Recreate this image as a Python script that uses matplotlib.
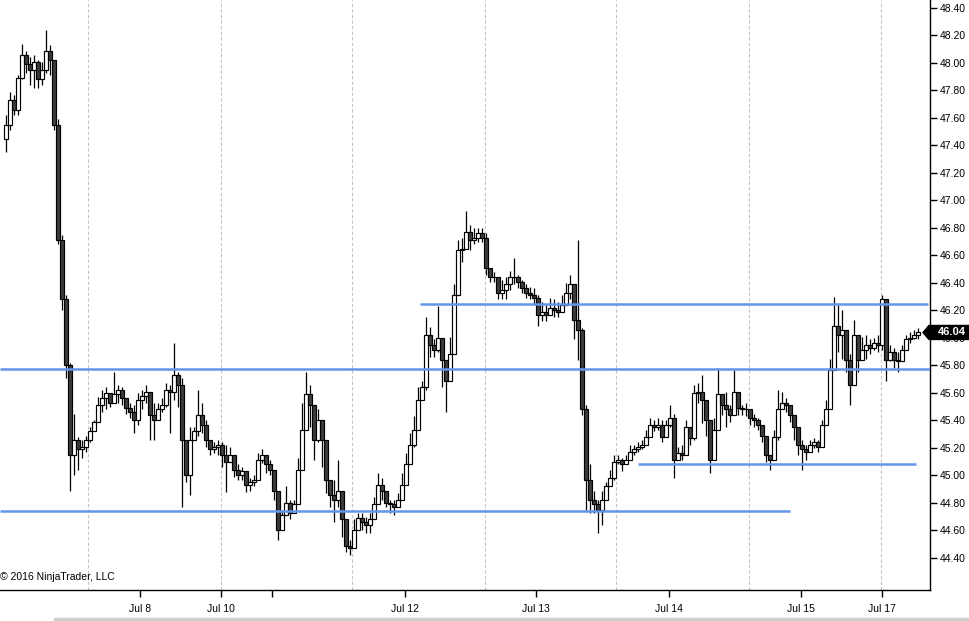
import numpy as np
import matplotlib
matplotlib.use("Agg")
import matplotlib.pyplot as plt
from matplotlib.patches import Polygon
from matplotlib.lines import Line2D
from matplotlib.transforms import blended_transform_factory

plt.rcParams['font.family'] = ['Liberation Sans', 'DejaVu Sans']

# ---------------- data ----------------
first_open = 47.45
closes = [
    47.55, 47.73, 47.66, 47.89, 48.06, 47.99, 47.95, 48.01, 47.88, 47.95,
    48.09, 48.02, 47.55, 46.71, 46.28, 45.80, 45.15, 45.26, 45.19, 45.21,
    45.26, 45.32, 45.39, 45.51, 45.56, 45.60, 45.53, 45.59, 45.62, 45.56,
    45.49, 45.46, 45.40, 45.55, 45.58, 45.61, 45.44, 45.40, 45.48, 45.51,
    45.62, 45.61, 45.73, 45.66, 45.26, 45.00, 45.26, 45.32, 45.44, 45.37,
    45.26, 45.19, 45.21, 45.22, 45.15, 45.10, 45.15, 45.04, 45.00, 45.03,
    44.93, 44.95, 44.97, 45.11, 45.15, 45.08, 45.04, 44.89, 44.60, 44.71,
    44.80, 44.73, 44.79, 45.04, 45.33, 45.59, 45.51, 45.26, 45.40, 45.26,
    44.97, 44.86, 44.82, 44.89, 44.68, 44.49, 44.47, 44.60, 44.69, 44.66,
    44.64, 44.68, 44.79, 44.93, 44.89, 44.80, 44.79, 44.77, 44.82, 44.93,
    45.08, 45.22, 45.33, 45.55, 45.64, 46.02, 45.95, 45.91, 46.00, 45.84,
    45.69, 45.88, 46.31, 46.64, 46.65, 46.77, 46.71, 46.73, 46.76, 46.73,
    46.51, 46.44, 46.44, 46.33, 46.35, 46.39, 46.44, 46.44, 46.41, 46.36,
    46.33, 46.31, 46.29, 46.17, 46.19, 46.17, 46.22, 46.20, 46.19, 46.24,
    46.33, 46.39, 46.13, 46.06, 45.48, 44.97, 44.82, 44.79, 44.75, 44.82,
    44.92, 44.98, 45.10, 45.11, 45.08, 45.11, 45.17, 45.19, 45.21, 45.22,
    45.28, 45.37, 45.35, 45.37, 45.28, 45.37, 45.42, 45.11, 45.16, 45.15,
    45.35, 45.27, 45.60, 45.61, 45.55, 45.40, 45.11, 45.33, 45.59, 45.51,
    45.48, 45.44, 45.61, 45.49, 45.48, 45.48, 45.42, 45.40, 45.37, 45.29,
    45.15, 45.11, 45.28, 45.48, 45.53, 45.51, 45.44, 45.35, 45.22, 45.19,
    45.17, 45.22, 45.24, 45.21, 45.37, 45.48, 45.77, 46.09, 46.02, 46.06,
    45.84, 45.66, 46.02, 45.84, 45.91, 45.95, 45.93, 45.96, 45.95, 46.28,
    45.84, 45.90, 45.84, 45.83, 45.91, 45.99, 46.00, 46.02, 46.04,
]
highs = [
    47.62, 47.79, 47.77, 47.91, 48.14, 48.09, 48.04, 48.06, 48.02, 48.01,
    48.24, 48.13, 48.02, 47.59, 46.75, 46.31, 45.82, 45.45, 45.28, 45.26,
    45.29, 45.35, 45.40, 45.57, 45.62, 45.64, 45.59, 45.75, 45.66, 45.64,
    45.56, 45.53, 45.51, 45.60, 45.62, 45.66, 45.59, 45.53, 45.53, 45.56,
    45.67, 45.66, 45.96, 45.75, 45.71, 45.11, 45.35, 45.35, 45.62, 45.53,
    45.40, 45.24, 45.24, 45.26, 45.24, 45.22, 45.21, 45.09, 45.08, 45.06,
    44.99, 44.98, 45.00, 45.16, 45.19, 45.13, 45.11, 44.97, 44.82, 44.75,
    44.92, 44.82, 44.82, 45.13, 45.53, 45.75, 45.66, 45.48, 45.48, 45.40,
    45.08, 44.97, 44.97, 45.11, 44.79, 44.58, 44.53, 44.68, 44.73, 44.73,
    44.70, 44.73, 44.84, 45.02, 44.98, 44.87, 44.82, 44.82, 44.87, 45.02,
    45.16, 45.31, 45.43, 45.64, 45.69, 46.15, 46.08, 45.99, 46.23, 45.99,
    45.80, 46.01, 46.39, 46.71, 46.73, 46.92, 46.82, 46.80, 46.80, 46.80,
    46.76, 46.49, 46.48, 46.44, 46.42, 46.44, 46.49, 46.58, 46.46, 46.42,
    46.39, 46.37, 46.36, 46.31, 46.26, 46.24, 46.29, 46.28, 46.26, 46.31,
    46.40, 46.46, 46.33, 46.71, 46.07, 45.51, 45.08, 44.89, 44.82, 44.89,
    44.95, 45.04, 45.15, 45.15, 45.13, 45.15, 45.22, 45.22, 45.24, 45.26,
    45.33, 45.42, 45.40, 45.42, 45.40, 45.40, 45.51, 45.45, 45.21, 45.22,
    45.40, 45.35, 45.66, 45.67, 45.73, 45.51, 45.33, 45.42, 45.78, 45.56,
    45.61, 45.51, 45.77, 45.55, 45.51, 45.53, 45.46, 45.45, 45.42, 45.37,
    45.22, 45.15, 45.33, 45.62, 45.61, 45.56, 45.51, 45.40, 45.29, 45.26,
    45.22, 45.26, 45.27, 45.26, 45.40, 45.55, 45.85, 46.30, 46.24, 46.20,
    45.99, 45.88, 46.13, 45.91, 46.01, 46.02, 45.99, 46.00, 46.02, 46.31,
    46.28, 45.95, 45.93, 45.90, 45.95, 46.02, 46.04, 46.06, 46.07,
]
lows = [
    47.35, 47.51, 47.62, 47.62, 47.88, 47.93, 47.84, 47.82, 47.82, 47.84,
    47.93, 47.91, 47.51, 46.68, 46.20, 45.71, 44.89, 45.00, 45.04, 45.13,
    45.17, 45.24, 45.33, 45.40, 45.46, 45.48, 45.50, 45.55, 45.53, 45.51,
    45.45, 45.42, 45.31, 45.37, 45.48, 45.53, 45.26, 45.26, 45.40, 45.46,
    45.50, 45.31, 45.55, 45.50, 44.77, 44.95, 44.86, 45.26, 45.29, 45.31,
    45.21, 45.15, 45.16, 45.15, 45.06, 44.88, 45.11, 44.99, 44.97, 44.97,
    44.88, 44.89, 44.92, 45.03, 45.09, 45.02, 45.00, 44.82, 44.53, 44.65,
    44.73, 44.68, 44.75, 44.95, 45.15, 45.45, 45.35, 45.11, 45.24, 45.06,
    44.87, 44.77, 44.66, 44.77, 44.55, 44.44, 44.42, 44.51, 44.63, 44.60,
    44.58, 44.58, 44.73, 44.87, 44.82, 44.77, 44.73, 44.71, 44.77, 44.86,
    45.00, 45.15, 45.21, 45.45, 45.59, 45.62, 45.86, 45.86, 45.90, 45.64,
    45.46, 45.79, 46.13, 46.39, 46.55, 46.68, 46.64, 46.68, 46.70, 46.70,
    46.46, 46.41, 46.41, 46.28, 46.28, 46.28, 46.35, 46.39, 46.36, 46.33,
    46.29, 46.28, 46.24, 46.09, 46.12, 46.12, 46.17, 46.15, 46.15, 46.19,
    46.28, 46.28, 45.99, 45.84, 45.44, 44.75, 44.73, 44.73, 44.58, 44.64,
    44.88, 44.93, 44.97, 45.08, 45.03, 45.08, 45.11, 45.15, 45.17, 45.19,
    45.24, 45.32, 45.32, 45.33, 45.24, 45.33, 45.35, 44.98, 45.11, 45.11,
    45.29, 45.22, 45.26, 45.53, 45.38, 45.29, 45.02, 45.19, 45.37, 45.44,
    45.35, 45.39, 45.51, 45.44, 45.44, 45.43, 45.37, 45.35, 45.33, 45.24,
    45.10, 45.04, 45.22, 45.26, 45.48, 45.46, 45.39, 45.26, 45.15, 45.04,
    45.11, 45.17, 45.20, 45.17, 45.22, 45.42, 45.53, 45.91, 45.90, 45.85,
    45.75, 45.51, 45.83, 45.75, 45.84, 45.85, 45.88, 45.91, 45.90, 45.91,
    45.69, 45.83, 45.78, 45.75, 45.83, 45.93, 45.96, 45.99, 45.99,
]

# horizontal support / resistance lines: level, start bar, end bar
levels = [45.775, 44.745, 46.25, 45.085]
level_start = [-1.5, -1.5, 103.5, 158.0]
level_end = [231.0, 196.0, 230.5, 227.5]

# session grid lines and date ticks (in bar units)
grid_pos = [20.5, 53.75, 86.5, 119.75, 152.5, 185.75, 218.75]
tick_pos = [33.5, 53.75, 66.5, 99.75, 132.5, 165.75, 198.75, 219.0]
tick_labels = ['Jul 8', 'Jul 10', '', 'Jul 12', 'Jul 13', 'Jul 14', 'Jul 15', 'Jul 17']
y_ticks = [44.40, 44.60, 44.80, 45.00, 45.20, 45.40, 45.60, 45.80, 46.00,
           46.20, 46.40, 46.60, 46.80, 47.00, 47.20, 47.40, 47.60, 47.80,
           48.00, 48.20, 48.40]

# ---------------- figure ----------------
W, H = 969, 621
fig = plt.figure(figsize=(W / 100, H / 100), dpi=100)
fig.patch.set_facecolor('white')
ax = fig.add_axes([0, 31 / H, 930 / W, 590 / H])

closes_a = np.array(closes)
opens_a = np.concatenate([[first_open], closes_a[:-1]])
highs_a = np.maximum(np.array(highs), np.maximum(opens_a, closes_a))
lows_a = np.minimum(np.array(lows), np.minimum(opens_a, closes_a))
x = np.arange(len(closes_a))

# grid
for g in grid_pos:
    ax.axvline(g, color='#c4c4c4', lw=0.8, ls=(0, (3, 2)), zorder=0)

# wicks
ax.vlines(x, lows_a, highs_a, color='black', lw=0.9, zorder=2)
# bodies
up = closes_a >= opens_a
fills = np.where(up, 'white', '#3c3c3c')
heights = closes_a - opens_a
ax.bar(x, heights, bottom=opens_a, width=0.85, color=list(fills),
       edgecolor='black', linewidth=0.85, zorder=3)

# level lines
for lv, s, e in zip(levels, level_start, level_end):
    ax.hlines(lv, s, e, color='#6495ed', lw=1.8, zorder=4)

ax.set_xlim(-1.5, 231.0)
ax.set_ylim(44.167, 48.458)

ax.spines['left'].set_visible(False)
ax.spines['top'].set_visible(False)
ax.spines['right'].set_color('black')
ax.spines['bottom'].set_color('black')
ax.spines['right'].set_linewidth(1.0)
ax.spines['bottom'].set_linewidth(1.0)

ax.yaxis.tick_right()
ax.set_yticks(y_ticks)
ax.set_yticklabels([f'{v:.2f}' for v in y_ticks])
ax.tick_params(axis='y', direction='out', length=5, width=1, pad=2,
               labelsize=7.5, colors='black')
ax.set_xticks(tick_pos)
ax.set_xticklabels(tick_labels)
ax.tick_params(axis='x', direction='out', length=5, width=1, pad=5,
               labelsize=7.5, colors='black')

# copyright
fig.text(0.0005, (H - 577) / H, '\u00a9 2016 NinjaTrader, LLC', fontsize=7.5,
         va='center', ha='left', color='black')

# last price marker
last = closes_a[-1]
tr = blended_transform_factory(fig.transFigure, ax.transData)
hh = 7 / 137.5
marker = Polygon([(923 / W, last), (929 / W, last + hh), (1.0, last + hh),
                  (1.0, last - hh), (929 / W, last - hh)], closed=True,
                 transform=tr, facecolor='black', edgecolor='black',
                 zorder=10, clip_on=False)
fig.add_artist(marker)
fig.text(952 / W, last, f'{last:.2f}', transform=tr, color='white',
         fontsize=8, fontweight='bold', ha='center', va='center', zorder=11)

# bottom light bar
fig.add_artist(Line2D([55 / W, 1.0], [2 / H, 2 / H], color='#cfcfcf', lw=2.5))

fig.savefig('out.png', dpi=100, facecolor='white')
